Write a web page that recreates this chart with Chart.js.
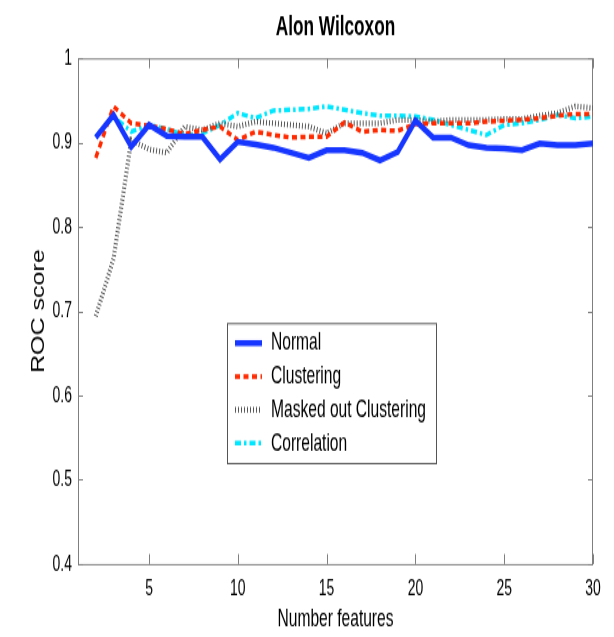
<!DOCTYPE html>
<html>
<head>
<meta charset="utf-8">
<title>Alon Wilcoxon</title>
<script src="https://cdn.jsdelivr.net/npm/chart.js@4.4.1/dist/chart.umd.min.js"></script>
<style>
  html, body { margin: 0; padding: 0; background: #fff; }
  #page { width: 614px; height: 637px; overflow: hidden; }
  /* the original figure is stretched vertically, so the canvas is too */
  #wrap { width: 614px; height: 472px; transform: scaleY(1.3496); transform-origin: 0 0; }
</style>
</head>
<body>
<div id="page"><div id="wrap"><canvas id="rocChart" width="614" height="472" style="width:614px;height:472px"></canvas></div></div>
<script>
const features = [2, 3, 4, 5, 6, 7, 8, 9, 10, 11, 12, 13, 14, 15, 16, 17, 18, 19, 20, 21, 22, 23, 24, 25, 26, 27, 28, 29, 30];

const normal = [0.906, 0.933, 0.895, 0.921, 0.908, 0.907, 0.907, 0.880, 0.901, 0.898,
                0.894, 0.888, 0.882, 0.891, 0.891, 0.888, 0.879, 0.889, 0.926, 0.906,
                0.906, 0.897, 0.894, 0.893, 0.891, 0.899, 0.897, 0.897, 0.899];

const clustering = [0.882, 0.943, 0.923, 0.920, 0.916, 0.910, 0.915, 0.919, 0.903, 0.913,
                    0.909, 0.906, 0.907, 0.907, 0.924, 0.913, 0.915, 0.914, 0.922, 0.923,
                    0.923, 0.923, 0.925, 0.926, 0.927, 0.929, 0.932, 0.934, 0.934];

const maskedOut = [0.694, 0.762, 0.903, 0.892, 0.888, 0.919, 0.915, 0.923, 0.919, 0.925,
                   0.923, 0.921, 0.919, 0.911, 0.923, 0.923, 0.923, 0.927, 0.927, 0.925,
                   0.927, 0.927, 0.927, 0.928, 0.928, 0.932, 0.935, 0.943, 0.941];

const correlation = [0.907, 0.931, 0.913, 0.921, 0.916, 0.909, 0.911, 0.921, 0.935, 0.929,
                     0.938, 0.939, 0.940, 0.943, 0.939, 0.935, 0.932, 0.932, 0.931, 0.927,
                     0.921, 0.915, 0.909, 0.921, 0.923, 0.927, 0.933, 0.929, 0.931];

const xTicks = [5, 10, 15, 20, 25, 30];
const xTickLabels = ['5', '10', '15', '20', '25', '30'];
const yTicks = [0.4, 0.5, 0.6, 0.7, 0.8, 0.9, 1];
const yTickLabels = ['0.4', '0.5', '0.6', '0.7', '0.8', '0.9', '1'];

const sans = '"Liberation Sans", Arial, sans-serif';

function points(values) {
    return features.map((f, i) => ({ x: f, y: values[i] }));
}

// Arial Narrow is not installed: squeeze Liberation Sans horizontally instead
function narrowText(ctx, text, x, y, font, align, squeeze = 0.82) {
    ctx.save();
    ctx.translate(x, y);
    ctx.scale(squeeze, 1);
    ctx.font = font;
    ctx.textAlign = align;
    ctx.textBaseline = 'middle';
    ctx.fillStyle = '#000';
    ctx.fillText(text, 0, 0);
    ctx.restore();
}

// matlab style box with inward ticks, labels and titles
const boxPlugin = {
    id: 'matlabBox',
    beforeDatasetsDraw(chart) {
        const { ctx, chartArea: a, scales: { x, y } } = chart;
        ctx.save();
        ctx.strokeStyle = '#7f7f7f';
        ctx.lineWidth = 1;
        ctx.strokeRect(a.left + 0.5, a.top + 0.5, a.width - 1, a.height);
        ctx.beginPath();
        xTicks.forEach(v => {
            const px = Math.round(x.getPixelForValue(v)) + 0.5;
            ctx.moveTo(px, a.bottom);
            ctx.lineTo(px, a.bottom - 7.4);
            ctx.moveTo(px, a.top);
            ctx.lineTo(px, a.top + 7.4);
        });
        yTicks.forEach(v => {
            const py = Math.round(y.getPixelForValue(v)) + 0.5;
            ctx.moveTo(a.left, py);
            ctx.lineTo(a.left + 5, py);
            ctx.moveTo(a.right, py);
            ctx.lineTo(a.right - 5, py);
        });
        ctx.stroke();
        ctx.restore();

        xTicks.forEach((v, i) => {
            narrowText(ctx, xTickLabels[i], x.getPixelForValue(v), a.bottom + 18, '17px ' + sans, 'center');
        });
        yTicks.forEach((v, i) => {
            narrowText(ctx, yTickLabels[i], a.left - 6, y.getPixelForValue(v), '17px ' + sans, 'right');
        });

        const midX = (a.left + a.right) / 2;
        narrowText(ctx, 'Alon Wilcoxon', midX, 20.7, 'bold 21px ' + sans, 'center');
        narrowText(ctx, 'Number features', midX, 458.5, '19px ' + sans, 'center');

        ctx.save();
        ctx.translate(39, (a.top + a.bottom) / 2);
        ctx.rotate(-Math.PI / 2);
        ctx.font = '18.5px ' + sans;
        ctx.textAlign = 'center';
        ctx.textBaseline = 'middle';
        ctx.fillStyle = '#000';
        ctx.fillText('ROC score', 0, 0);
        ctx.restore();
    }
};

const legendPlugin = {
    id: 'boxLegend',
    afterDatasetsDraw(chart) {
        const { ctx, chartArea: a } = chart;
        const left = a.left + 149, top = a.top + 196.1, w = 209, h = 103.7;
        ctx.save();
        ctx.fillStyle = '#fff';
        ctx.fillRect(left, top, w, h);
        ctx.strokeStyle = '#555';
        ctx.lineWidth = 1;
        ctx.strokeRect(left + 0.5, top + 0.5, w, h);
        chart.data.datasets.forEach((ds, i) => {
            const yy = top + 14.9 + i * 24.7;
            ctx.beginPath();
            ctx.strokeStyle = ds.borderColor;
            ctx.lineWidth = ds.borderWidth;
            ctx.setLineDash(ds.borderDash || []);
            ctx.moveTo(left + 8, yy);
            ctx.lineTo(left + 35, yy);
            ctx.stroke();
            ctx.setLineDash([]);
            narrowText(ctx, ds.label, left + 44, yy, '19px ' + sans, 'left');
        });
        ctx.restore();
    }
};

const ctx = document.getElementById('rocChart').getContext('2d');

const rocData = {
    datasets: [{
        label: 'Normal',
        data: points(normal),
        borderColor: '#1736ff',
        borderWidth: 4.5
    }, {
        label: 'Clustering',
        data: points(clustering),
        borderColor: '#ff2a00',
        borderWidth: 3.5,
        borderDash: [5, 3.5]
    }, {
        label: 'Masked out Clustering',
        data: points(maskedOut),
        borderColor: '#555555',
        borderWidth: 4.2,
        borderDash: [1, 2]
    }, {
        label: 'Correlation',
        data: points(correlation),
        borderColor: '#00e8ff',
        borderWidth: 3.5,
        borderDash: [6, 3, 2.5, 3]
    }]
};

const config = {
    type: 'line',
    data: rocData,
    options: {
        responsive: false,
        animation: false,
        events: [],
        devicePixelRatio: 1,
        layout: { padding: { top: 43.2, right: 21, left: 0, bottom: 0 } },
        elements: {
            point: { radius: 0 },
            line: { tension: 0, fill: false }
        },
        plugins: {
            legend: { display: false },
            tooltip: { enabled: false },
            title: { display: false }
        },
        scales: {
            x: {
                type: 'linear',
                min: 1,
                max: 30,
                grid: { display: false },
                border: { display: false },
                ticks: { display: false },
                afterFit: scale => { scale.height = 54.1; }
            },
            y: {
                min: 0.4,
                max: 1,
                grid: { display: false },
                border: { display: false },
                ticks: { display: false },
                afterFit: scale => { scale.width = 78; }
            }
        }
    },
    plugins: [boxPlugin, legendPlugin]
};

const rocChart = new Chart(ctx, config);
</script>
</body>
</html>
